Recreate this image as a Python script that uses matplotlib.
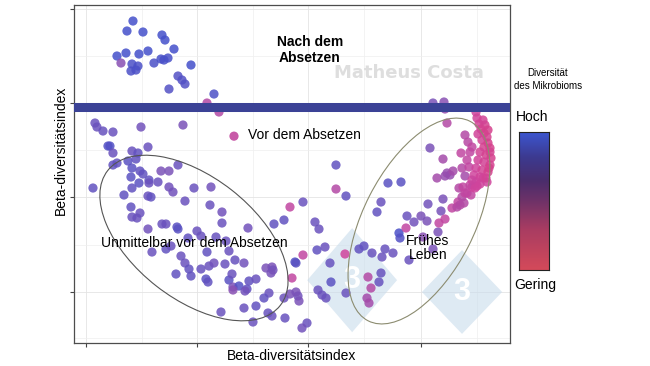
import matplotlib
matplotlib.use("Agg")
import matplotlib.pyplot as plt
import numpy as np
from matplotlib.colors import LinearSegmentedColormap
from matplotlib.patches import Ellipse, Polygon

plt.rcParams["font.family"] = ["Liberation Sans", "DejaVu Sans"]

# --- Data (beta diversity axis 1 / axis 2, arbitrary units; div = microbiome diversity 0..1)
nach_x = [133, 127, 143, 162, 165, 174, 117, 126, 139, 148, 121, 132, 138, 131, 136,
          154, 161, 168, 164, 191, 178, 182, 185, 169, 214, 207, 219]
nach_y = [379, 369, 368, 365, 360, 351, 344, 347, 346, 349, 337, 336, 334, 329, 330,
          337, 341, 342, 340, 335, 324, 320, 316, 311, 306, 297, 288]
nach_div = [.95, .95, .95, .95, .95, .95, .95, .95, .95, .95, .55, .9, .9, .9, .9,
            .9, .92, .92, .92, .95, .85, .85, .85, .85, .88, .4, .4]

unm_x = [95, 97, 103, 113, 141, 183, 110, 108, 113, 132, 138, 148, 113, 117, 128, 136,
         132, 140, 161, 169, 178, 143, 149, 149, 158, 169, 194, 211, 93, 132, 139, 131,
         124, 148, 151, 173, 185, 131, 132, 137, 140, 148, 162, 166, 177, 178, 188, 197,
         201, 216, 226, 222, 222, 210, 248, 274, 284, 290, 303, 152, 166, 171, 181, 185,
         189, 191, 176, 201, 206, 208, 209, 214, 207, 225, 229, 235, 244, 229, 232, 233,
         239, 247, 249, 256, 245, 233, 266, 272, 273, 271, 269, 264, 244, 256, 221, 253,
         268, 272, 285, 284, 292, 295, 296, 303, 290, 298, 299, 296, 307, 302, 315, 319,
         317, 325, 318, 322, 326, 330, 331, 336]
unm_y = [277, 273, 269, 268, 273, 275, 254, 254, 247, 249, 247, 253, 235, 237, 239, 241,
         232, 229, 229, 229, 235, 226, 220, 217, 218, 213, 212, 213, 212, 212, 217, 223,
         205, 204, 203, 208, 199, 193, 183, 182, 187, 171, 176, 176, 173, 171, 162, 169,
         164, 163, 159, 188, 177, 195, 172, 176, 180, 193, 198, 148, 151, 154, 144, 137,
         131, 124, 126, 131, 121, 118, 134, 137, 148, 136, 149, 140, 137, 120, 126, 113,
         114, 111, 119, 121, 109, 110, 132, 133, 130, 127, 107, 102, 92, 94, 88, 78,
         87, 84, 82, 102, 122, 138, 137, 145, 106, 104, 99, 108, 77, 72, 178, 171,
         150, 153, 110, 105, 102, 137, 118, 235]
unm_div = [.7, .7, .72, .7, .65, .6, .85, .85, .7, .7, .75, .7, .75, .75, .8, .75,
           .8, .75, .6, .6, .7, .75, .75, .7, .7, .65, .7, .65, .75, .75, .8, .8,
           .75, .7, .75, .65, .7, .75, .7, .7, .7, .65, .7, .7, .8, .8, .75, .7,
           .7, .72, .7, .65, .7, .7, .65, .75, .75, .35, .7, .7, .75, .7, .7, .7,
           .75, .75, .75, .72, .8, .75, .7, .65, .75, .7, .7, .72, .65, .8, .7, .6,
           .85, .75, .75, .7, .65, .55, .6, .6, .65, .62, .7, .75, .7, .75, .7, .7,
           .72, .7, .72, .68, .35, .85, .8, .35, .6, .65, .6, .6, .7, .65, .7, .7,
           .75, .7, .7, .7, .7, .72, .8, .75]

frueh_x = [346, 336, 345, 346, 377, 381, 388, 401, 359, 364, 372, 382, 385, 393, 381, 368,
           371, 379, 367, 369, 399, 400, 407, 414, 421, 427, 406, 428, 443, 441, 433, 409,
           438, 439, 445, 452, 457, 458, 464, 462, 467, 471, 459, 463, 472, 477, 480, 487,
           437, 445, 450, 465, 470, 475, 483, 465, 460, 423, 430, 443, 447, 453, 462, 469,
           467, 461, 465, 468, 472, 470, 433, 444, 445, 447]
frueh_y = [204, 211, 146, 107, 188, 198, 217, 218, 151, 154, 147, 143, 151, 147, 127, 123,
           112, 118, 102, 97, 167, 162, 184, 178, 184, 179, 172, 196, 201, 189, 151, 140,
           168, 177, 181, 192, 193, 198, 197, 203, 207, 205, 212, 213, 213, 214, 216, 218,
           222, 224, 225, 224, 215, 212, 222, 207, 195, 163, 252, 241, 227, 229, 232, 233,
           240, 247, 265, 258, 253, 248, 297, 298, 291, 277]
frueh_div = [.75, .4, .3, .7, .75, .7, .8, .8, .75, .75, .7, .7, .72, .7, .72, .4,
             .4, .72, .45, .45, .9, .85, .7, .65, .6, .6, .35, .65, .6, .62, .6, .7,
             .6, .35, .35, .35, .4, .35, .4, .4, .35, .35, .4, .35, .3, .3, .3, .3,
             .45, .5, .5, .45, .35, .3, .3, .35, .4, .55, .6, .45, .5, .45, .4, .35,
             .35, .35, .4, .38, .35, .35, .6, .55, .5, .4]

spalte_x = [476, 477, 479, 481, 484, 487, 478, 482, 488, 484, 490, 480, 486, 491, 478,
            484, 490, 476, 482, 488, 474, 480, 486, 476, 472, 485, 488, 490, 483, 489]
spalte_y = [288, 282, 276, 271, 267, 263, 266, 260, 257, 253, 252, 248, 245, 242, 240,
            238, 235, 232, 230, 228, 225, 223, 222, 218, 220, 275, 270, 248, 280, 232]
spalte_div = [.3, .28, .25, .22, .2, .22, .28, .25, .2, .22, .2, .25, .22, .2, .28,
              .25, .22, .3, .25, .22, .3, .28, .25, .3, .32, .22, .2, .22, .25, .2]

x = np.array(nach_x + unm_x + frueh_x + spalte_x)
y = np.array(nach_y + unm_y + frueh_y + spalte_y)
div = np.array(nach_div + unm_div + frueh_div + spalte_div)

band_y = 293.5

# ellipses (centre, width, height, angle)
ell_unm = ((194, 162), 219, 122, -38)
ell_frueh = ((419, 179), 224, 111, 63)

pt_cmap = LinearSegmentedColormap.from_list(
    "pts", [(0, "#e23c70"), (0.3, "#cf449c"), (0.6, "#7a52b8"), (0.8, "#5a52c2"), (1, "#3d4fcc")])
bar_cmap = LinearSegmentedColormap.from_list(
    "bar", [(0, "#d44a5a"), (0.3, "#a83c62"), (0.5, "#6e3268"), (0.65, "#4a2d6c"),
            (0.82, "#3c3a90"), (1, "#3d56d0")])

fig = plt.figure(figsize=(6.5, 3.66), dpi=100)
ax = fig.add_axes([0.1138, 0.0628, 0.6708, 0.9235])
ax.set_xlim(74, 510)
ax.set_ylim(57, 395)

ax.set_xticks([86, 197, 308, 421])
ax.set_xticks([142, 253, 364, 477], minor=True)
ax.set_yticks([108, 203, 297, 391])
ax.set_yticks([62, 155, 250, 344], minor=True)
ax.set_xticklabels([])
ax.set_yticklabels([])
ax.tick_params(which="major", length=3, color="#444444", width=0.8)
ax.tick_params(which="minor", length=0)
ax.grid(which="major", color="#e4e4e4", lw=0.6)
ax.grid(which="minor", color="#efefef", lw=0.5)
ax.set_axisbelow(True)
for s in ax.spines.values():
    s.set_color("#4d4d4d")
    s.set_linewidth(0.9)

# 333 logo watermark
for (cx, cy, hw, hh) in [(0.638, 0.186, 0.103, 0.154), (0.890, 0.151, 0.092, 0.124)]:
    ax.add_patch(Polygon([(cx, cy + hh), (cx + hw, cy), (cx, cy - hh), (cx - hw, cy)],
                         closed=True, transform=ax.transAxes, facecolor="#c9dcec",
                         edgecolor="none", alpha=0.6, zorder=1))
    ax.text(cx, cy, "3", transform=ax.transAxes, ha="center", va="center",
            fontsize=22, fontweight="bold", color="white", zorder=1.5)

ax.text(0.768, 0.80, "Matheus Costa", transform=ax.transAxes, ha="center", va="center",
        fontsize=13, fontweight="bold", color="#dedede", family="DejaVu Sans", zorder=1)

ax.scatter(x, y, c=div, cmap=pt_cmap, vmin=0, vmax=1, s=44, alpha=0.85,
           edgecolors="none", zorder=3)

ax.axhline(band_y, color="#3b4296", lw=6.5, zorder=4)

for (c, w, h, a), col in [(ell_unm, "#555555"), (ell_frueh, "#8c8c70")]:
    ax.add_patch(Ellipse(c, w, h, angle=a, fill=False, edgecolor=col, lw=0.8, zorder=5))

ax.text(0.541, 0.867, "Nach dem\nAbsetzen", transform=ax.transAxes, ha="center",
        va="center", fontsize=10, fontweight="bold", linespacing=1.1, zorder=6)
ax.scatter([0.367], [0.612], transform=ax.transAxes, s=44, color="#c85aa8",
           edgecolors="none", zorder=6)
ax.text(0.399, 0.615, "Vor dem Absetzen", transform=ax.transAxes, ha="left",
        va="center", fontsize=10, zorder=6)
ax.text(0.275, 0.296, "Unmittelbar vor dem Absetzen", transform=ax.transAxes,
        ha="center", va="center", fontsize=10, zorder=6)
ax.text(0.812, 0.281, "Frühes\nLeben", transform=ax.transAxes, ha="center",
        va="center", fontsize=10, linespacing=1.05, zorder=6)

ax.set_xlabel("Beta-diversitätsindex", fontsize=10)
ax.set_ylabel("Beta-diversitätsindex", fontsize=10)
ax.xaxis.set_label_coords(0.5, -0.018)
ax.yaxis.set_label_coords(-0.015, 0.57)

# colour bar
cax = fig.add_axes([0.7985, 0.262, 0.046, 0.377])
grad = np.linspace(0, 1, 256).reshape(-1, 1)
cax.imshow(grad, cmap=bar_cmap, aspect="auto", origin="lower")
cax.set_xticks([])
cax.set_yticks([])
for s in cax.spines.values():
    s.set_color("#222222")
    s.set_linewidth(0.8)

fig.text(0.818, 0.680, "Hoch", ha="center", va="center", fontsize=10)
fig.text(0.823, 0.221, "Gering", ha="center", va="center", fontsize=10)
fig.text(0.843, 0.783, "Diversität\ndes Mikrobioms", ha="center", va="center",
         fontsize=7, linespacing=1.3)

fig.savefig("out.png", dpi=100)
